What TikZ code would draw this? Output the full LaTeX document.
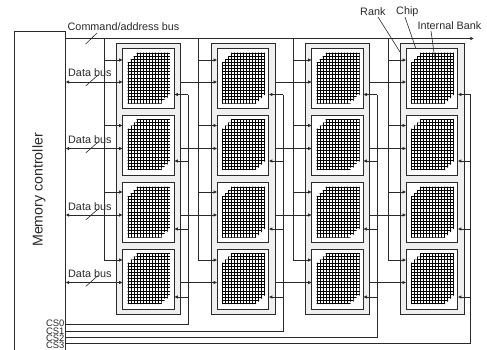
\documentclass[tikz,border=0pt]{standalone}
\usepackage{fontspec}
\setmainfont{Liberation Sans}
\usetikzlibrary{arrows.meta}
\definecolor{ink}{HTML}{2A2A2A}
\definecolor{rankfill}{HTML}{EFEFEF}
\tikzset{
  x=1pt,y=-1pt,
  wire/.style={draw=ink,line width=0.8pt},
  arr/.style={wire,-{Latex[length=3.6pt,width=3.6pt]}},
  biarr/.style={wire,{Latex[length=3.6pt,width=3.6pt]}-{Latex[length=3.6pt,width=3.6pt]}},
  rankbox/.style={draw=ink,line width=0.9pt,fill=rankfill,rectangle,inner sep=0pt,minimum width=64pt,minimum height=270.5pt},
  chipbox/.style={draw=ink,line width=0.9pt,fill=white,rectangle,inner sep=0pt,minimum width=51.5pt},
  lbl/.style={inner sep=0pt,font=\fontsize{10.8}{11}\selectfont,text=ink},
  cslbl/.style={inner sep=0pt,anchor=east,font=\fontsize{9.4}{10}\selectfont,text=ink},
  tick/.style={draw=ink,line width=0.6pt},
  meshline/.style={draw=black,line width=0.7pt}
}
\begin{document}
\begin{tikzpicture}
\useasboundingbox (0,0) rectangle (487,349);
\clip (0,0) rectangle (487,349);
\fill[white] (0,0) rectangle (487,349);
% controller (runs off the bottom of the page)
\node[draw=ink,line width=0.9pt,rectangle,inner sep=0pt,minimum width=50.5pt,minimum height=340pt] (mc) at (39.75,201) {};
\node[lbl,rotate=90,font=\fontsize{14.2}{15}\selectfont] (mclabel) at (39,190) {Memory controller};
% bus
\coordinate (busend) at (474,38.5);
\draw[arr] (mc.east |- busend) -- (busend);
% ranks and chips
\foreach \c/\rx/\vx/\sx/\sy in {1/148.5/104/188/324.5, 2/243/198.3/283/331, 3/337.5/293/377/337.7, 4/432/388/470.7/343.7}{
  \node[rankbox] (r\c) at (\rx,178.75) {};
  \coordinate (cmd\c) at (\vx,38.5);
  \coordinate (cs\c) at (\sx,\sy);
  \foreach \r/\t/\b/\ca/\da/\sa in {1/48.5/108.5/60/82/94.5, 2/115/175/125.5/148.5/161, 3/182.5/242/192/215/229, 4/249/309/260/282.5/297}{
    \node[chipbox,minimum height={\b pt-\t pt}] (c\c\r) at (\rx,{(\t+\b)/2}) {};
    \coordinate (ci\c\r) at (\rx-25.75,\ca);
    \coordinate (di\c\r) at (\rx-25.75,\da);
    \coordinate (si\c\r) at (\rx+25.75,\sa);
    \draw[arr] (\vx,\ca) -- (ci\c\r);
    \draw[arr] (\sx,\sa) -- (si\c\r);
    % bank of cells: one mesh with stepped corners
    \begin{scope}[shift={(\rx-20.5,\t+4.5)}]
      \begin{scope}
        \clip (8.5,-0.5) -- (42.5,-0.5) -- (42.5,42) -- (39.5,42) -- (39.5,45) -- (36.5,45) -- (36.5,48) -- (33.5,48) -- (33.5,50.5)
          -- (-0.5,50.5) -- (-0.5,9) -- (2.5,9) -- (2.5,6) -- (5.5,6) -- (5.5,3) -- (8.5,3) -- cycle;
        \foreach \g in {0,3,...,42}{\draw[meshline] (\g,-1) -- (\g,51);}
        \foreach \g in {0,3.12,...,50}{\draw[meshline] (-1,\g) -- (43,\g);}
      \end{scope}
    \end{scope}
  }
  \draw[wire] (cmd\c) -- (\vx,260);
  \draw[wire] (mc.east |- cs\c) -- (cs\c) -- (\sx,94.5);
}
% data buses
\foreach \r/\y in {1/82,2/148.5,3/215,4/282.5}{
  \draw[biarr] (mc.east |- di1\r) -- (di1\r);
  \foreach \p/\n in {1/2,2/3,3/4}{
    \draw[arr] (r\p.east |- di\n\r) -- (di\n\r);
  }
}
% labels
\node[lbl,anchor=west] (cmdlabel) at (67.5,27) {Command/address bus};
\draw[tick] (85.7,44) -- (97,33);
\foreach \y/\n in {73/1,140/2,207/3,273.5/4}{
  \node[lbl,anchor=west] (dl\n) at (68,\y) {Data bus};
  \draw[tick] (85.7,\y+13) -- (98,\y+2);
}
\node[cslbl] (cs0) at (64.5,323.5) {CS0};
\node[cslbl] (cs1) at (64.5,331) {CS1};
\node[cslbl] (cs2) at (64.5,338) {CS2};
\node[cslbl] (cs3) at (64.5,345) {CS3};
\node[lbl,anchor=west] (rank) at (360,12) {Rank};
\node[lbl,anchor=west] (chip) at (396,12) {Chip};
\node[lbl,anchor=west] (ibank) at (417.5,25.5) {Internal Bank};
\coordinate (rankpt) at (400,52);
\coordinate (chippt) at (416,49);
\coordinate (bankpt) at (435,60);
\draw[tick] (378,17) -- (rankpt);
\draw[tick] (405,17) -- (chippt);
\draw[tick] (431,31) -- (bankpt);
\end{tikzpicture}
\end{document}
